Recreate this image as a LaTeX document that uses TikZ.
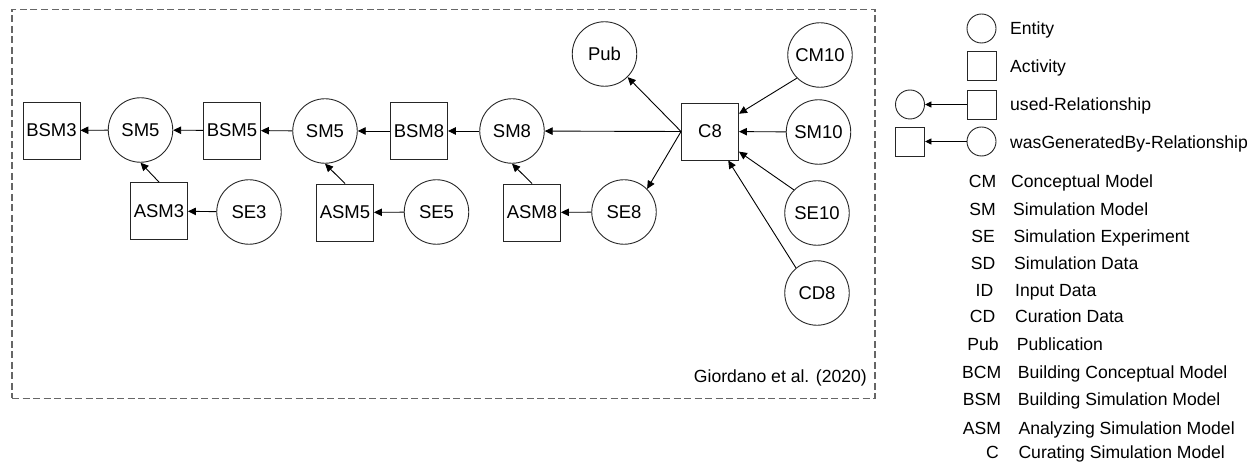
\documentclass[tikz,border=0pt]{standalone}
\usepackage{fontspec}
\setmainfont{Liberation Sans}
\usetikzlibrary{arrows.meta}
\begin{document}
\begin{tikzpicture}[x=1pt,y=-1pt,
  ent/.style={circle,draw=black!85,line width=0.9pt,minimum size=64.5pt,inner sep=0pt,font=\fontsize{18.5}{20}\selectfont},
  act/.style={rectangle,draw=black!85,line width=0.9pt,minimum size=57pt,inner sep=0pt,font=\fontsize{18.5}{20}\selectfont},
  lent/.style={circle,draw=black!85,line width=0.9pt,minimum size=29pt,inner sep=0pt},
  lact/.style={rectangle,draw=black!85,line width=0.9pt,minimum size=29pt,inner sep=0pt},
  rel/.style={-{Triangle[length=8pt,width=7.5pt]},line width=0.9pt,draw=black},
  lrel/.style={-{Triangle[length=6.5pt,width=6pt]},line width=0.9pt,draw=black},
  lbl/.style={anchor=base west,inner sep=0pt,font=\fontsize{17.6}{19}\selectfont},
  abbr/.style={anchor=base,inner sep=0pt,font=\fontsize{17.6}{19}\selectfont},
  frame/.style={draw=black!60,dash pattern=on 7pt off 3.5pt,line width=1.2pt,inner sep=0pt}
]
\useasboundingbox (0,0) rectangle (1255,462);
% dashed frame
\node[frame,minimum width=863pt,minimum height=389pt] (frame) at (443.5,203.8) {};
\node[anchor=base east,inner sep=0pt,font=\fontsize{17.6}{19}\selectfont] (cite) at (867,382) {Giordano et al. (2020)};

% nodes
\node[act] (bsm3) at (51.5,130.5) {BSM3};
\node[ent] (sm5a) at (140.5,130) {SM5};
\node[act] (bsm5) at (232,130.5) {BSM5};
\node[ent] (sm5b) at (325,131) {SM5};
\node[act] (bsm8) at (419,131) {BSM8};
\node[ent] (sm8) at (512,131) {SM8};
\node[act] (c8) at (710,131.5) {C8};
\node[ent] (pub) at (604.5,54) {Pub};
\node[ent] (cm10) at (820,55) {CM10};
\node[ent] (sm10) at (818.5,132) {SM10};
\node[ent] (se10) at (817,213) {SE10};
\node[ent] (cd8) at (817,293) {CD8};
\node[ent] (se8) at (624,212) {SE8};
\node[act] (asm8) at (532,212.5) {ASM8};
\node[ent] (se5) at (436.5,212) {SE5};
\node[act] (asm5) at (345,212.5) {ASM5};
\node[ent] (se3) at (249,212) {SE3};
\node[act] (asm3) at (159,211) {ASM3};

% edges
\draw[rel] (sm5a) -- (bsm3);
\draw[rel] (bsm5) -- (sm5a);
\draw[rel] (sm5b) -- (bsm5);
\draw[rel] (bsm8) -- (sm5b);
\draw[rel] (sm8) -- (bsm8);
\draw[rel] (c8.west) -- (sm8);
\draw[rel] (c8.west) -- (pub.-45);
\draw[rel] (c8.west) -- (se8.45);
\draw[rel] (cm10.225) -- (c8);
\draw[rel] (sm10) -- (c8);
\draw[rel] (se10.135) -- (c8);
\draw[rel] (cd8.130) -- (c8);
\draw[rel] (asm3.north) -- (sm5a.south);
\draw[rel] (asm5.north) -- (sm5b.south);
\draw[rel] (asm8.north) -- (sm8.south);
\draw[rel] (se3) -- (asm3);
\draw[rel] (se5) -- (asm5);
\draw[rel] (se8) -- (asm8);

% legend
\node[lent] (lent) at (981.5,28.5) {};
\node[lbl] (tent) at (1010,35) {Entity};
\node[lact] (lact) at (981.5,65.5) {};
\node[lbl] (tact) at (1010,73) {Activity};
\node[lent] (luc) at (910,104.5) {};
\node[lact] (lus) at (981.5,104.5) {};
\draw[lrel] (lus) -- (luc);
\node[lbl] (tused) at (1010,111) {used-Relationship};
\node[lact] (lws) at (910,141.5) {};
\node[lent] (lwc) at (981.5,141.5) {};
\draw[lrel] (lwc) -- (lws);
\node[lbl] (twas) at (1010,149) {wasGeneratedBy-Relationship};

\node[abbr] (acm) at (982.5,187.5) {CM};   \node[lbl] (dcm) at (1011,187.5) {Conceptual Model};
\node[abbr] (asm) at (982.5,215.5) {SM};   \node[lbl] (dsm) at (1013,215.5) {Simulation Model};
\node[abbr] (ase) at (983,242.3) {SE};     \node[lbl] (dse) at (1013.3,242.3) {Simulation Experiment};
\node[abbr] (asd) at (983,269.3) {SD};     \node[lbl] (dsd) at (1014,269.3) {Simulation Data};
\node[abbr] (aid) at (984.5,296.3) {ID};   \node[lbl] (did) at (1015,296.3) {Input Data};
\node[abbr] (acd) at (982.5,322.3) {CD};   \node[lbl] (dcd) at (1015,322.3) {Curation Data};
\node[abbr] (apub) at (983,350.3) {Pub};   \node[lbl] (dpub) at (1016.7,350.3) {Publication};
\node[abbr] (abcm) at (981.7,378.3) {BCM}; \node[lbl] (dbcm) at (1017.7,378.3) {Building Conceptual Model};
\node[abbr] (absm) at (982,405.3) {BSM};   \node[lbl] (dbsm) at (1017.7,405.3) {Building Simulation Model};
\node[abbr] (aasm) at (982,434.3) {ASM};   \node[lbl] (dasm) at (1018.3,434.3) {Analyzing Simulation Model};
\node[abbr] (ac) at (992.5,458.3) {C};     \node[lbl] (dc) at (1018.3,458.3) {Curating Simulation Model};
\end{tikzpicture}
\end{document}
